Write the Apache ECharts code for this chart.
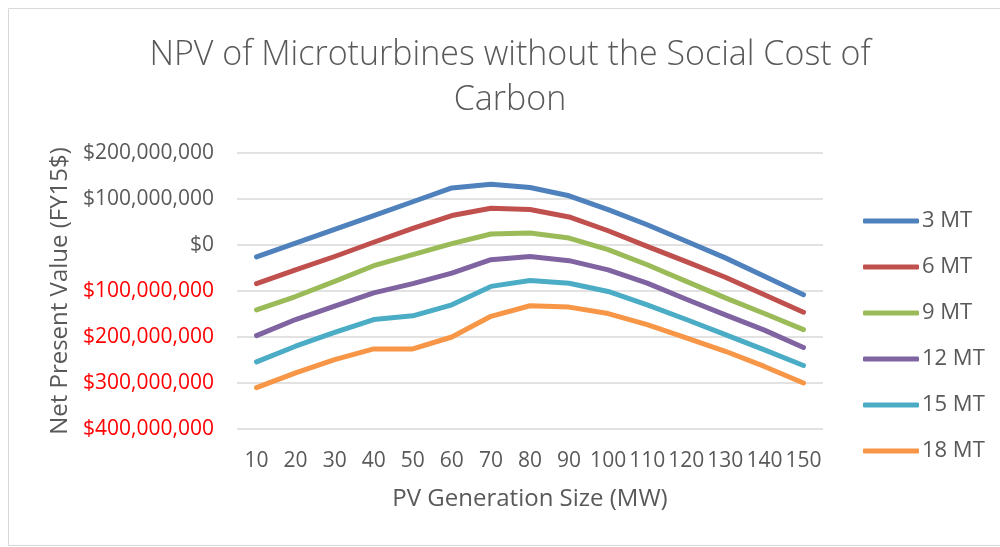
<!DOCTYPE html>
<html>
<head>
<meta charset="utf-8">
<script src="https://cdn.jsdelivr.net/npm/echarts@6/dist/echarts.min.js"></script>
<style>
	html, body { margin: 0; padding: 0; background: #fff; }
	#chart { width: 1000px; height: 547px; }
</style>
</head>
<body>
<div id="chart"></div>
<script>
// PV generation size (MW)
const sizes = ["10", "20", "30", "40", "50", "60", "70", "80", "90", "100", "110", "120", "130", "140", "150"];

// NPV in millions of FY15 dollars, per number of microturbines
const mt3 = [-26, 4, 34, 64, 94, 124, 132, 125, 107, 77, 44, 8, -28, -68, -108];
const mt6 = [-84, -54, -25, 6, 36, 64, 80, 77, 61, 31, -3, -36, -70, -108, -146];
const mt9 = [-141, -112, -79, -45, -21, 3, 24, 26, 15, -10, -43, -79, -115, -149, -184];
const mt12 = [-197, -162, -133, -104, -84, -61, -32, -25, -34, -54, -83, -118, -152, -185, -223];
const mt15 = [-254, -220, -190, -162, -154, -130, -90, -77, -83, -101, -130, -162, -195, -228, -262];
const mt18 = [-310, -278, -249, -226, -226, -200, -155, -132, -135, -149, -173, -202, -231, -264, -300];

const seriesNames = ["3 MT", "6 MT", "9 MT", "12 MT", "15 MT", "18 MT"];
const seriesData = [mt3, mt6, mt9, mt12, mt15, mt18];
const colors = ["#4F81BD", "#C0504D", "#9BBB59", "#8064A2", "#4BACC6", "#F79646"];

const font = "'Open Sans', 'Noto Sans', sans-serif";

let chart = echarts.init(document.getElementById("chart"));

let option = {
	animation: false,
	color: colors,
	textStyle: { fontFamily: font },
	graphic: [
		{
			type: "rect",
			shape: { x: 8.5, y: 8.5, width: 1000, height: 537 },
			style: { fill: null, stroke: "#d9d9d9", lineWidth: 1 },
			silent: true
		}
	],
	title: {
		text: "NPV of Microturbines without the Social Cost of\nCarbon",
		left: 505,
		textAlign: "center",
		top: 28,
		textStyle: {
			fontFamily: font,
			fontSize: 34,
			fontWeight: 300,
			color: "#595959",
			lineHeight: 45
		}
	},
	legend: {
		orient: "vertical",
		left: 858,
		top: 205,
		itemWidth: 56,
		itemHeight: 5,
		itemGap: 24,
		icon: "roundRect",
		data: seriesNames,
		textStyle: { fontSize: 22, color: "#595959", fontFamily: font, padding: [0, 0, 0, -2] }
	},
	grid: {
		left: 237,
		right: 177,
		top: 153,
		bottom: 118
	},
	xAxis: {
		type: "category",
		data: sizes,
		boundaryGap: true,
		name: "PV Generation Size (MW)",
		nameLocation: "middle",
		nameGap: 58,
		nameTextStyle: { fontSize: 24, color: "#595959" },
		axisLine: { show: false },
		axisTick: { show: false },
		axisLabel: {
			interval: 0,
			margin: 22,
			fontSize: 21,
			color: "#595959"
		}
	},
	yAxis: {
		type: "value",
		min: -400,
		max: 200,
		interval: 100,
		name: "Net Present Value (FY15$)",
		nameLocation: "middle",
		nameGap: 165,
		nameTextStyle: { fontSize: 24, color: "#595959" },
		axisLine: { show: false },
		axisTick: { show: false },
		splitLine: { lineStyle: { color: "#d9d9d9", width: 1.5 } },
		axisLabel: {
			margin: 23,
			fontSize: 21,
			formatter: function(v) {
				let s = "$" + (Math.abs(v) * 1000000).toLocaleString("en-US");
				return v < 0 ? "{neg|" + s + "}" : "{pos|" + s + "}";
			},
			rich: {
				pos: { color: "#595959", fontSize: 21, fontFamily: font },
				neg: { color: "#FF0000", fontSize: 21, fontFamily: font }
			}
		}
	},
	series: seriesNames.map(function(name, i) {
		return {
			name: name,
			type: "line",
			data: seriesData[i],
			symbol: "none",
			lineStyle: { width: 5, cap: "round", join: "round" }
		};
	})
};

chart.setOption(option);
</script>
</body>
</html>
